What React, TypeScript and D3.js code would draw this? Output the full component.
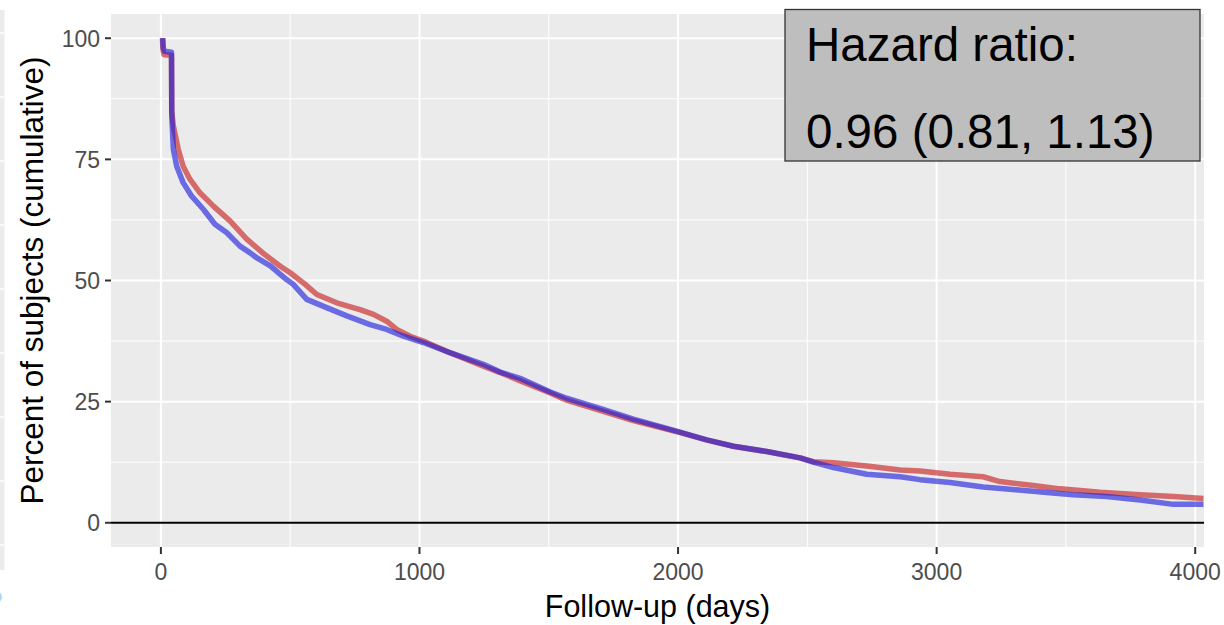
import React from 'react';
import * as d3 from 'd3';

// cumulative percent of subjects remaining (day, percent)
const redCurve: [number, number][] = [
  [6, 100], [8, 97.6], [12, 96.6], [41, 96.5], [42, 85], [48, 81.9], [67, 77.1],
  [86, 73.6], [112, 70.9], [151, 68.1], [202, 65.4], [267, 62.3], [331, 58.6],
  [396, 55.6], [460, 53.0], [500, 51.6], [558, 49.2], [603, 47.1], [680, 45.4],
  [770, 44.0], [822, 43.0], [873, 41.6], [912, 39.9], [964, 38.5], [1015, 37.5],
  [1118, 35.1], [1247, 32.3], [1312, 31.0], [1376, 29.6], [1506, 26.8], [1569, 25.3],
  [1698, 23.2], [1827, 21.1], [2008, 18.6], [2110, 17.1], [2214, 15.8], [2343, 14.7],
  [2472, 13.4], [2523, 12.6], [2601, 12.4], [2730, 11.7], [2859, 10.9], [2936, 10.7],
  [3052, 10.0], [3180, 9.5], [3245, 8.5], [3374, 7.7], [3478, 7.0], [3632, 6.3],
  [3787, 5.8], [3916, 5.4], [4032, 5.0],
];

const blueCurve: [number, number][] = [
  [7, 100], [9, 98], [14, 97.3], [41, 97.1], [42, 84], [44, 81.9], [48, 77.1],
  [61, 73.6], [86, 70.2], [119, 67.4], [164, 64.7], [209, 61.6], [254, 59.9],
  [306, 57.1], [345, 55.7], [370, 54.7], [423, 53.0], [486, 50.2], [512, 49.2],
  [564, 46.1], [641, 44.4], [719, 42.7], [809, 40.9], [873, 39.9], [938, 38.5],
  [1015, 37.2], [1118, 35.1], [1247, 32.7], [1312, 31.1], [1389, 29.8], [1506, 27.0],
  [1569, 25.7], [1698, 23.6], [1827, 21.4], [2008, 18.7], [2110, 17.1], [2214, 15.8],
  [2343, 14.7], [2472, 13.4], [2523, 12.5], [2601, 11.4], [2730, 10.0], [2859, 9.5],
  [2936, 8.9], [3052, 8.3], [3180, 7.4], [3283, 6.9], [3438, 6.2], [3528, 5.8],
  [3657, 5.4], [3787, 4.7], [3916, 3.8], [4032, 3.8],
];

const xTicks = [0, 1000, 2000, 3000, 4000];
const xMinor = [500, 1500, 2500, 3500];
const yTicks = [0, 25, 50, 75, 100];
const yMinor = [12.5, 37.5, 62.5, 87.5];
const hrLines = ['Hazard ratio:', '0.96 (0.81, 1.13)'];

const W = 1224;
const H = 625;
const panel = { left: 111, top: 14, right: 1204, bottom: 547 };
const font = '"Liberation Sans", Arial, sans-serif';

const App = () => {
  const x = d3.scaleLinear().domain([-193, 4034]).range([panel.left, panel.right]);
  const y = d3.scaleLinear().domain([-5, 105]).range([panel.bottom, panel.top]);

  const line = d3.line<[number, number]>()
    .x(d => x(d[0]))
    .y(d => y(d[1]));

  // edge of a neighbouring panel that was cropped into the picture
  const stripLines = d3.range(0, 9).map(i => 33 + i * 64);

  return (
    <svg width={W} height={H} style={{ position: 'absolute', left: 0, top: 0, background: '#fff' }}>
      <defs>
        <clipPath id="panel">
          <rect x={panel.left} y={panel.top} width={panel.right - panel.left} height={panel.bottom - panel.top} />
        </clipPath>
      </defs>

      <rect x={0} y={10} width={4.5} height={560} fill="#ebebeb" />
      {stripLines.map(v => (
        <line key={v} x1={0} x2={4.5} y1={v} y2={v} stroke="#fff" strokeWidth={1.5} />
      ))}
      <circle cx={-4} cy={597} r={6} fill="#a9d8f2" />

      {/* panel background and grid */}
      <rect x={panel.left} y={panel.top} width={panel.right - panel.left} height={panel.bottom - panel.top} fill="#ebebeb" />
      {yMinor.map(v => (
        <line key={'ym' + v} x1={panel.left} x2={panel.right} y1={y(v)} y2={y(v)} stroke="#fff" strokeWidth={1} />
      ))}
      {xMinor.map(v => (
        <line key={'xm' + v} x1={x(v)} x2={x(v)} y1={panel.top} y2={panel.bottom} stroke="#fff" strokeWidth={1} />
      ))}
      {yTicks.map(v => (
        <line key={'yg' + v} x1={panel.left} x2={panel.right} y1={y(v)} y2={y(v)} stroke="#fff" strokeWidth={2} />
      ))}
      {xTicks.map(v => (
        <line key={'xg' + v} x1={x(v)} x2={x(v)} y1={panel.top} y2={panel.bottom} stroke="#fff" strokeWidth={2} />
      ))}

      <line x1={panel.left} x2={panel.right} y1={y(0)} y2={y(0)} stroke="#000" strokeWidth={1.8} />

      <g clipPath="url(#panel)" fill="none" strokeWidth={5.5} strokeLinejoin="round">
        <path d={line(redCurve) || ''} stroke="rgb(200,30,30)" strokeOpacity={0.63} />
        <path d={line(blueCurve) || ''} stroke="rgb(30,30,220)" strokeOpacity={0.63} />
      </g>

      {/* axes */}
      {yTicks.map(v => (
        <g key={'yt' + v}>
          <line x1={panel.left - 6} x2={panel.left} y1={y(v)} y2={y(v)} stroke="#333" strokeWidth={2} />
          <text x={100} y={y(v) + 8.3} textAnchor="end" fontFamily={font} fontSize={23} fill="#4d4d4d">{v}</text>
        </g>
      ))}
      {xTicks.map(v => (
        <g key={'xt' + v}>
          <line x1={x(v)} x2={x(v)} y1={panel.bottom} y2={panel.bottom + 7} stroke="#333" strokeWidth={2} />
          <text x={x(v)} y={580} textAnchor="middle" fontFamily={font} fontSize={23} fill="#4d4d4d">{v}</text>
        </g>
      ))}

      <text x={(panel.left + panel.right) / 2} y={617} textAnchor="middle" fontFamily={font} fontSize={30.5} fill="#000">
        Follow-up (days)
      </text>
      <text transform={`translate(43,${(panel.top + panel.bottom) / 2}) rotate(-90)`} textAnchor="middle"
        fontFamily={font} fontSize={31.5} fill="#000">
        Percent of subjects (cumulative)
      </text>

      {/* hazard ratio box */}
      <rect x={785} y={9.5} width={415} height={151.5} fill="#bebebe" stroke="#333" strokeWidth={1.3} />
      {hrLines.map((t, i) => (
        <text key={t} x={806} y={61 + i * 86.5} fontFamily={font} fontSize={47.5} fill="#000">{t}</text>
      ))}
    </svg>
  );
};

export default App;
